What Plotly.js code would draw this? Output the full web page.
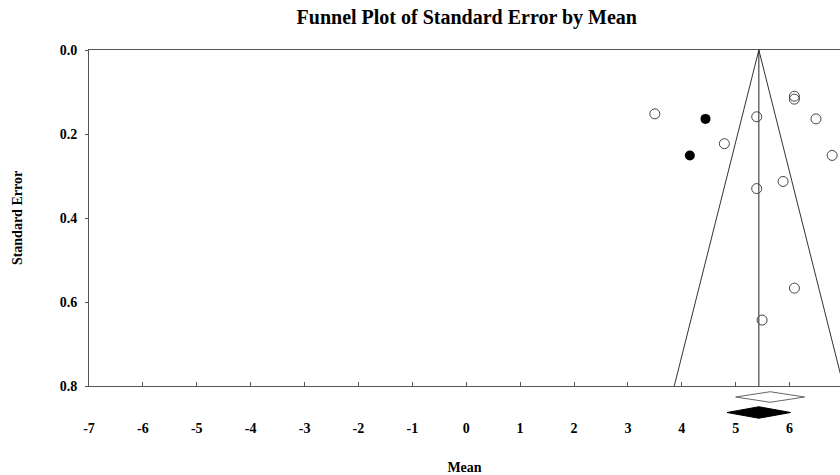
<!DOCTYPE html>
<html>
<head>
<meta charset="utf-8">
<script src="https://cdn.plot.ly/plotly-3.0.1.min.js"></script>
<style>html,body{margin:0;padding:0;background:#fff;}#chart{width:840px;height:475px;}</style>
</head>
<body>
<div id="chart"></div>
<script>
// Observed studies (open circles)
const observedMean = [3.50, 5.39, 6.09, 6.09, 6.49, 4.79, 6.79, 5.88, 5.39, 6.09, 5.49];
const observedSE   = [0.152, 0.159, 0.110, 0.117, 0.164, 0.223, 0.251, 0.313, 0.330, 0.567, 0.643];
// Imputed studies (filled circles)
const imputedMean = [4.44, 4.15];
const imputedSE   = [0.164, 0.251];
// Funnel (95% limits) and combined mean line
const funnelX = [3.86, 5.43, 7.00];
const funnelY = [0.8, 0.0, 0.8];
const centerX = [5.43, 5.43];
const centerY = [0.0, 0.8];
// Summary diamonds: [lower, point, upper]
const observedSummary = [5.00, 5.64, 6.28];
const adjustedSummary = [4.84, 5.43, 6.02];
// Axis ticks
const xTicks = [-7, -6, -5, -4, -3, -2, -1, 0, 1, 2, 3, 4, 5, 6, 7];
const yTicks = [0.0, 0.2, 0.4, 0.6, 0.8];

function diamond(s, row, h) {
  return {x: [s[0], s[1], s[2], s[1], s[0]], y: [row, row - h, row, row + h, row]};
}
const dOpen = diamond(observedSummary, 1, 0.34);
const dFill = diamond(adjustedSummary, 2, 0.37);

const FONT = 'Liberation Serif, Times New Roman, serif';

const traces = [
  {x: funnelX, y: funnelY, type: 'scatter', mode: 'lines', line: {color: '#333', width: 1}, hoverinfo: 'skip'},
  {x: centerX, y: centerY, type: 'scatter', mode: 'lines', line: {color: '#222', width: 1}, hoverinfo: 'skip'},
  {x: observedMean, y: observedSE, type: 'scatter', mode: 'markers',
   marker: {symbol: 'circle-open', size: 10, color: '#444', line: {width: 1, color: '#444'}}},
  {x: imputedMean, y: imputedSE, type: 'scatter', mode: 'markers',
   marker: {symbol: 'circle', size: 10, color: '#000', line: {width: 0}}},
  {x: dOpen.x, y: dOpen.y, xaxis: 'x', yaxis: 'y2', type: 'scatter', mode: 'lines',
   line: {color: '#666', width: 1}, fill: 'toself', fillcolor: '#fff', hoverinfo: 'skip'},
  {x: dFill.x, y: dFill.y, xaxis: 'x', yaxis: 'y2', type: 'scatter', mode: 'lines',
   line: {color: '#000', width: 1}, fill: 'toself', fillcolor: '#000', hoverinfo: 'skip'}
];

const bottomFrac = (435 - 386) / 385;

const layout = {
  width: 840, height: 475,
  margin: {l: 89, r: 0, t: 50, b: 40, pad: 0},
  paper_bgcolor: '#fff', plot_bgcolor: '#fff',
  showlegend: false,
  font: {family: FONT, color: '#000', size: 14},
  title: {text: 'Funnel Plot of Standard Error by Mean', font: {family: FONT, size: 20, weight: 'bold', color: '#000'},
          xref: 'paper', x: 0.503, xanchor: 'center', yref: 'container', y: 1 - 17 / 475, yanchor: 'middle'},
  xaxis: {
    range: [-7, -7 + 751 / 53.89], anchor: 'y', domain: [0, 1],
    tickmode: 'array', tickvals: xTicks, ticktext: xTicks.map(String),
    ticks: 'inside', ticklen: 4, tickwidth: 1, tickcolor: '#555',
    showline: true, linecolor: '#555', linewidth: 1, mirror: true,
    showgrid: false, zeroline: false,
    tickfont: {family: FONT, size: 14, weight: 'bold', color: '#000'},
    ticklabelstandoff: 29,
    title: {text: 'Mean', font: {family: FONT, size: 14, weight: 'bold', color: '#000'}, standoff: 27},
    automargin: false
  },
  yaxis: {
    range: [0.8, 0], domain: [bottomFrac, 1], anchor: 'x',
    tickmode: 'array', tickvals: yTicks, ticktext: yTicks.map(v => v.toFixed(1)),
    ticks: 'outside', ticklen: 3, tickwidth: 1, tickcolor: '#555',
    showline: true, linecolor: '#555', linewidth: 1, mirror: false,
    showgrid: false, zeroline: false,
    tickfont: {family: FONT, size: 14, weight: 'bold', color: '#000'},
    ticklabelstandoff: 5,
    title: {text: 'Standard Error', font: {family: FONT, size: 14, weight: 'bold', color: '#000'}, standoff: 33},
    automargin: false
  },
  yaxis2: {
    range: [(435 - 381.5) / 15.5, (386 - 381.5) / 15.5], domain: [0, bottomFrac], anchor: 'x',
    visible: false, showgrid: false, zeroline: false
  }
};

Plotly.newPlot('chart', traces, layout, {displayModeBar: false, staticPlot: true});
</script>
</body>
</html>
